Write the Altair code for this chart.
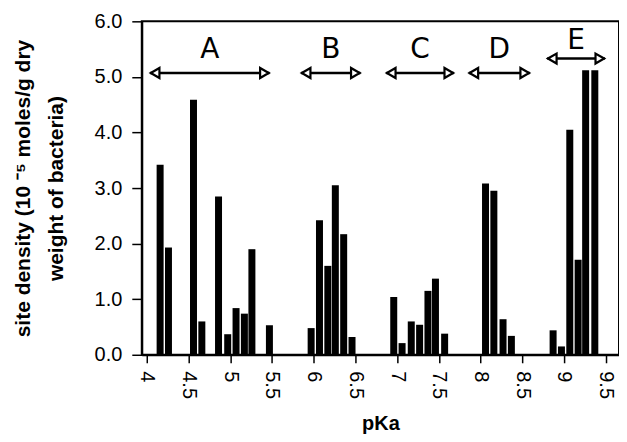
import altair as alt
import pandas as pd

# Bar data (pKa position, site density in 10^-5 mol/g)
pka = [4.16, 4.26, 4.56, 4.66, 4.86, 4.97, 5.07, 5.17, 5.26, 5.47,
       5.97, 6.07, 6.17, 6.26, 6.36, 6.46,
       6.96, 7.06, 7.17, 7.27, 7.37, 7.46, 7.57,
       8.06, 8.16, 8.27, 8.37,
       8.87, 8.97, 9.07, 9.17, 9.26, 9.37]
density = [3.42, 1.93, 4.59, 0.60, 2.85, 0.37, 0.84, 0.74, 1.90, 0.53,
           0.48, 2.42, 1.60, 3.05, 2.17, 0.32,
           1.04, 0.21, 0.60, 0.54, 1.15, 1.37, 0.38,
           3.08, 2.95, 0.64, 0.34,
           0.44, 0.15, 4.05, 1.71, 5.12, 5.12]

# Region annotations
region_labels = ["A", "B", "C", "D", "E"]
region_start = [4.04, 5.85, 6.87, 7.86, 8.80]
region_end = [5.47, 6.56, 7.68, 8.59, 9.49]
arrow_y = [5.07, 5.07, 5.07, 5.07, 5.33]
label_y = [5.48, 5.48, 5.48, 5.48, 5.64]

x_ticks = [4, 4.5, 5, 5.5, 6, 6.5, 7, 7.5, 8, 8.5, 9, 9.5]
y_ticks = [0, 1, 2, 3, 4, 5, 6]

bars_df = pd.DataFrame({"pKa": pka, "density": density})
reg_df = pd.DataFrame({
    "label": region_labels,
    "start": region_start,
    "end": region_end,
    "ay": arrow_y,
    "ly": label_y,
})
reg_df["mid"] = (reg_df["start"] + reg_df["end"]) / 2

xscale = alt.Scale(domain=[4, 9.6], nice=False, zero=False)
yscale = alt.Scale(domain=[0, 6], nice=False)

bars = alt.Chart(bars_df).mark_bar(size=7, color="black").encode(
    x=alt.X("pKa:Q", scale=xscale,
            axis=alt.Axis(title="pKa", values=x_ticks, labelAngle=90,
                          labelExpr="datum.value", grid=False,
                          tickSize=8, labelPadding=8, titlePadding=15,
                          titleFontSize=20)),
    y=alt.Y("density:Q", scale=yscale,
            axis=alt.Axis(title=["site density (10 \u207b\u2075 moles/g dry",
                                 "weight of bacteria)"],
                          values=y_ticks, format=".1f", grid=False,
                          tickSize=10, labelPadding=10, titlePadding=28,
                          titleFontSize=21, titleLineHeight=33)),
)

shaft = alt.Chart(reg_df).mark_rule(color="black", strokeWidth=2.5).encode(
    x="start:Q", x2="end:Q", y="ay:Q"
)
left_head = alt.Chart(reg_df).mark_point(
    shape="triangle-left", size=100, filled=True, fill="white",
    stroke="black", strokeWidth=2.2, xOffset=5, opacity=1
).encode(x="start:Q", y="ay:Q")
right_head = alt.Chart(reg_df).mark_point(
    shape="triangle-right", size=100, filled=True, fill="white",
    stroke="black", strokeWidth=2.2, xOffset=-5, opacity=1
).encode(x="end:Q", y="ay:Q")
labels = alt.Chart(reg_df).mark_text(
    font="DejaVu Sans", fontSize=28, fontWeight="normal", color="black"
).encode(x="mid:Q", y="ly:Q", text="label:N")

chart = alt.layer(bars, shaft, left_head, right_head, labels).properties(
    width=478, height=334,
    autosize=alt.AutoSizeParams(type="none"),
    padding={"left": 134, "top": 13, "right": 0, "bottom": 79},
).configure_view(
    stroke="black", strokeWidth=2
).configure_axis(
    domainColor="black", domainWidth=2, tickColor="black", tickWidth=1.5,
    labelFont="Liberation Sans", labelFontSize=20,
    labelColor="black", titleFont="Liberation Sans", titleFontWeight="bold",
    titleColor="black"
)

chart.save("out.html", embed_options={"renderer": "svg", "actions": False})
